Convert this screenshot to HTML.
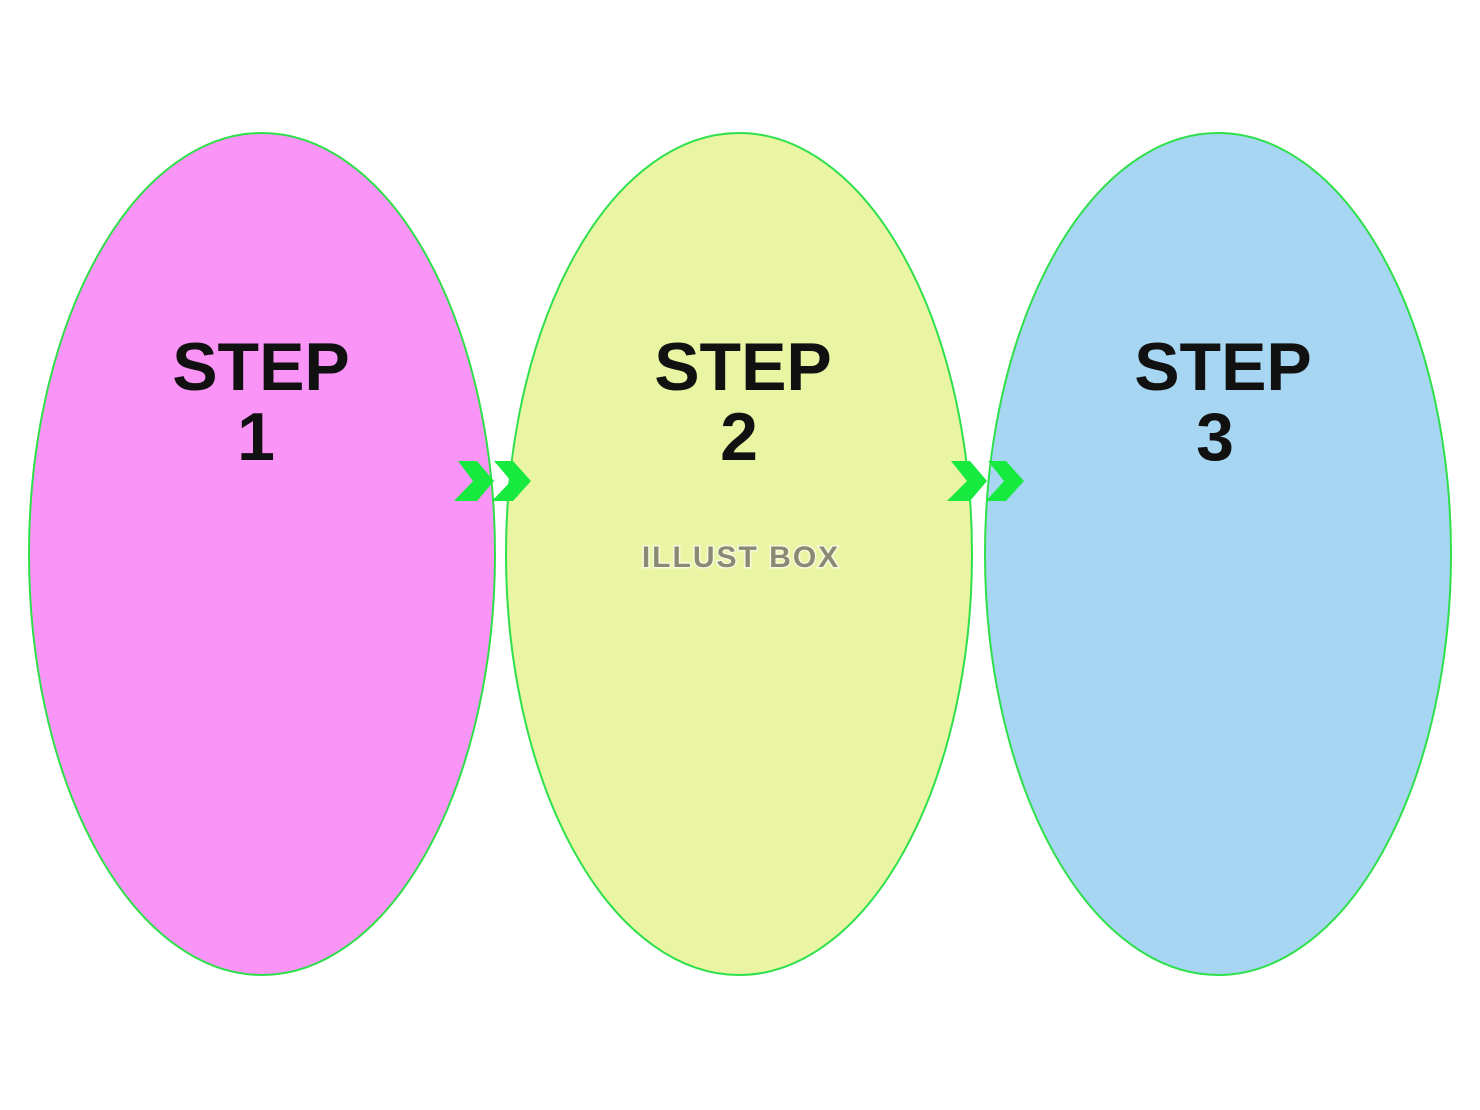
<!DOCTYPE html>
<html><head><meta charset="utf-8"><style>
html,body{margin:0;padding:0;background:#fff;}
svg{display:block;}
</style></head><body>
<svg width="1480" height="1110" viewBox="0 0 1480 1110" xmlns="http://www.w3.org/2000/svg">
<rect width="1480" height="1110" fill="#fff"/>
<ellipse cx="262" cy="554" rx="233" ry="421" fill="#fa94f6" stroke="#2ee04a" stroke-width="2"/>
<ellipse cx="739" cy="554" rx="233" ry="421" fill="#e9f5a3" stroke="#2ee04a" stroke-width="2"/>
<ellipse cx="1218" cy="554" rx="233" ry="421" fill="#a7d6f2" stroke="#2ee04a" stroke-width="2"/>
<g fill="#17ea3e">
<polygon points="458,461 477,461 494,481 477,501 454,501 473,481"/>
<polygon points="494,461 513,461 531,481 513,501 492,501 511,481"/>
<polygon points="951,461 970,461 987,481 970,501 947,501 967,481"/>
<polygon points="988,461 1006,461 1024,481 1006,501 986,501 1004,481"/>
</g>
<g font-family="Liberation Sans, sans-serif" font-weight="bold" font-size="68" fill="#111" text-anchor="middle">
<text x="261" y="390">STEP</text><text x="256" y="460">1</text>
<text x="743" y="390">STEP</text><text x="739" y="460">2</text>
<text x="1223" y="390">STEP</text><text x="1215" y="460">3</text>
</g>
<text x="741" y="567" font-family="Liberation Sans, sans-serif" font-weight="bold" font-size="30" letter-spacing="2" fill="#8a8a74" stroke="#f6fadf" stroke-width="3" paint-order="stroke" text-anchor="middle">ILLUST BOX</text>
</svg>
</body></html>
